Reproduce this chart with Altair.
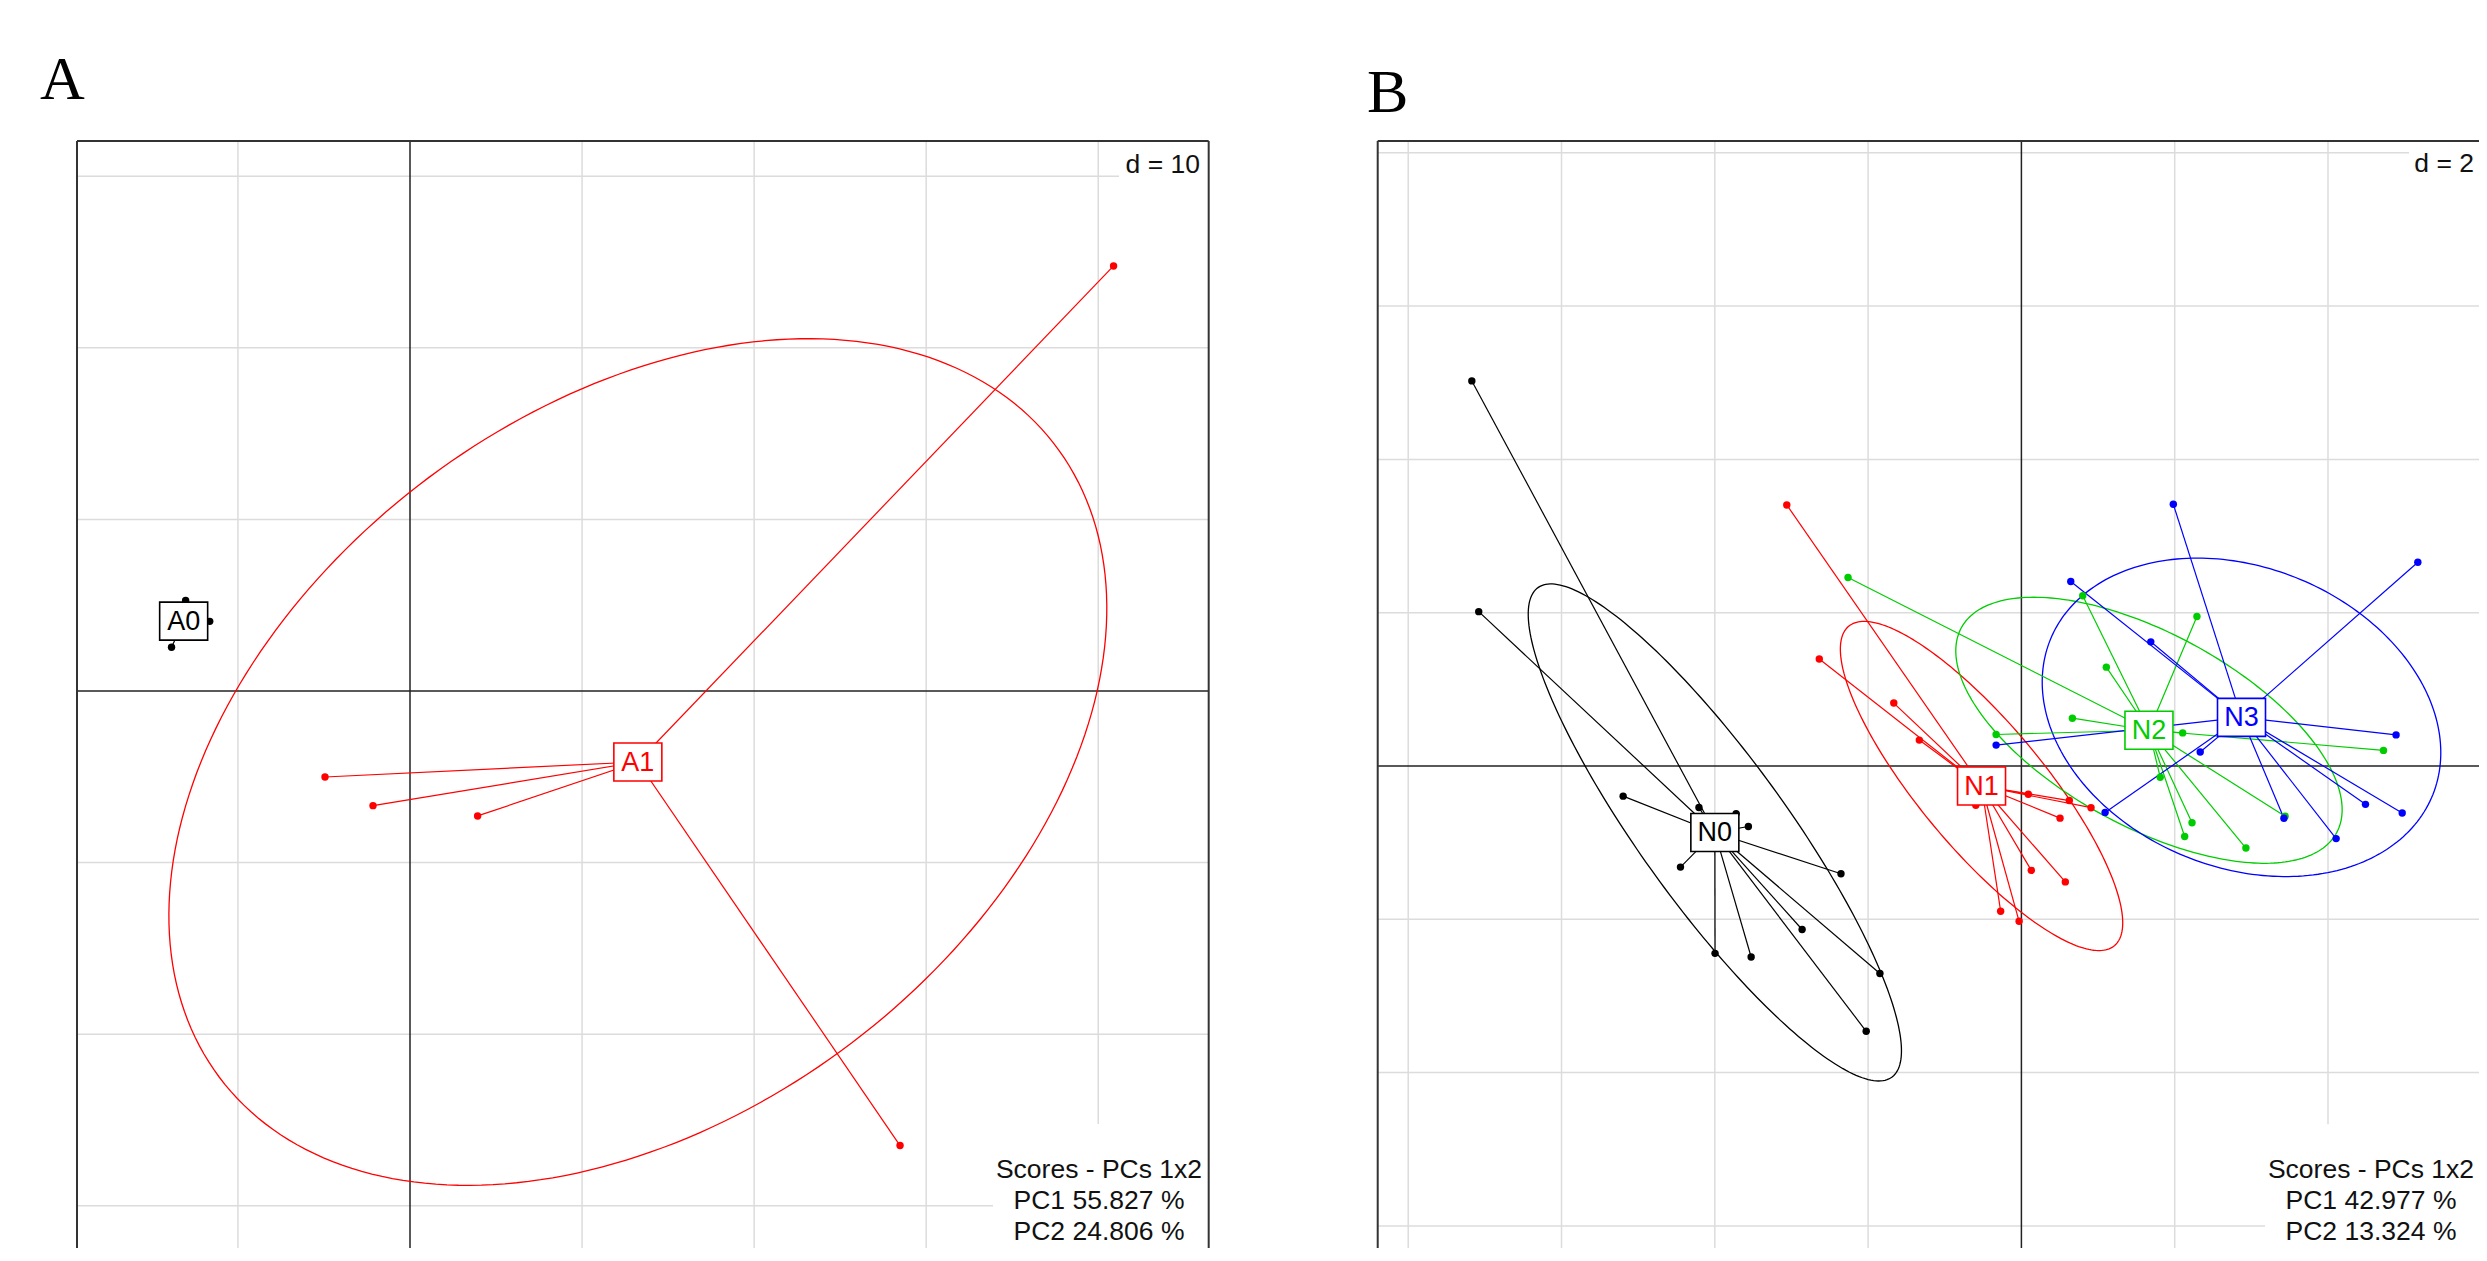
import numpy as np
import pandas as pd
import altair as alt

# ---------------- data: PCA scores ----------------
# Panel A (d = 10)
A_GROUPS = ["A0", "A1"]
A_COLORS = ["#000000", "#FF0000"]
A0_X = [-11.64, -13.86, -13.04, -14.08]
A0_Y = [4.06, 2.55, 5.28, 4.39]
A1_X = [40.89, -4.94, -2.15, 3.93, 28.48]
A1_Y = [24.77, -5.01, -6.68, -7.28, -26.49]
A_ELLIPSE = [False, True]
A_SUB = ["Scores - PCs 1x2", "PC1 55.827 %", "PC2 24.806 %"]
A_D_LABEL = "d = 10"

# Panel B (d = 2)
B_GROUPS = ["N0", "N1", "N2", "N3"]
B_COLORS = ["#000000", "#FF0000", "#00CD00", "#0000FF"]
N0_X = [-7.170, -7.080, -5.196, -4.207, -3.722, -3.562, -4.448, -2.354, -2.861, -3.997, -3.526, -1.846, -2.025]
N0_Y = [5.024, 2.014, -0.393, -0.541, -0.621, -0.789, -1.319, -1.406, -2.133, -2.444, -2.492, -2.707, -3.461]
N1_X = [-3.061, -2.637, -1.665, -1.332, -0.595, 0.090, 0.625, 0.908, 0.504, 0.129, 0.573, -0.271, -0.030]
N1_Y = [3.406, 1.395, 0.821, 0.338, -0.513, -0.368, -0.451, -0.544, -0.680, -1.361, -1.512, -1.894, -2.026]
N2_X = [-2.262, 0.800, 2.290, 1.108, 0.665, -0.330, 2.104, 4.724, 1.811, 3.440, 2.226, 2.130, 2.929]
N2_Y = [2.459, 2.222, 1.950, 1.290, 0.624, 0.411, 0.432, 0.204, -0.147, -0.654, -0.740, -0.920, -1.070]
N3_X = [1.982, 5.172, 0.644, 1.688, -0.330, 4.888, 2.333, 1.092, 3.425, 4.489, 4.968, 4.106, 2.872]
N3_Y = [3.414, 2.659, 2.408, 1.620, 0.273, 0.406, 0.183, -0.605, -0.681, -0.500, -0.612, -0.947, 0.635]
B_ELLIPSE = [True, True, True, True]
B_SUB = ["Scores - PCs 1x2", "PC1 42.977 %", "PC2 13.324 %"]
B_D_LABEL = "d = 2"

# ---------------- layout (in data units of each panel) ----------------
PANEL_A = dict(
    title="A", width=1202, height=1240,
    xdom=[-23.364, 46.495], ydom=[-32.459, 39.802],
    d=10, left=-19.354, right=46.419, top=32.051,
    title_xy=(-21.504, 34.499),
    dlab_xy=(45.914, 30.186), dbox=(41.207, 46.419, 29.953, 32.051),
    sub_x=40.044, sub_y=[-28.380, -30.186, -31.993], subbox=(33.884, 46.419, -25.233),
)
PANEL_B = dict(
    title="B", width=1139, height=1240,
    xdom=[-8.890, 5.970], ydom=[-6.288, 9.889],
    d=2, left=-8.398, right=6.374, top=8.154,
    title_xy=(-8.538, 8.526),
    dlab_xy=(5.905, 7.750), dbox=(5.057, 6.374, 7.684, 8.154),
    sub_x=4.561, sub_y=[-5.375, -5.780, -6.184], subbox=(3.178, 6.374, -4.675),
)

FONT = "Liberation Sans"
SERIF = "Liberation Serif"
BOX_PATH = "M-1.263,-1L1.263,-1L1.263,1L-1.263,1Z"


def ellipse_pts(xs, ys, c=1.5, n=240):
    x = np.asarray(xs, float)
    y = np.asarray(ys, float)
    mx, my = x.mean(), y.mean()
    cov = np.array([[((x - mx) ** 2).mean(), ((x - mx) * (y - my)).mean()],
                    [((x - mx) * (y - my)).mean(), ((y - my) ** 2).mean()]])
    w, v = np.linalg.eigh(cov)
    w = np.clip(w, 0, None)
    t = np.linspace(0, 2 * np.pi, n)
    circ = np.vstack([np.cos(t), np.sin(t)])
    pts = v @ (np.sqrt(w)[:, None] * circ) * c
    return mx + pts[0], my + pts[1]


def build_panel(groups, colors, xs_list, ys_list, ell_flags, sub, dlabel, P):
    XS = alt.Scale(domain=P["xdom"], nice=False, zero=False)
    YS = alt.Scale(domain=P["ydom"], nice=False, zero=False)

    def X(f="x"):
        return alt.X(f"{f}:Q", scale=XS, axis=None)

    def Y(f="y"):
        return alt.Y(f"{f}:Q", scale=YS, axis=None)

    d = P["d"]
    L, R, T = P["left"], P["right"], P["top"]
    BOT = P["ydom"][0]

    grid = []
    for k in range(int(np.ceil(L / d)), int(np.floor(R / d)) + 1):
        v = k * d
        if k != 0 and L < v < R:
            grid.append(dict(x=v, y=BOT, x2=v, y2=T))
    for k in range(int(np.ceil(BOT / d)), int(np.floor(T / d)) + 1):
        v = k * d
        if k != 0 and BOT < v < T:
            grid.append(dict(x=L, y=v, x2=R, y2=v))
    axes = [dict(x=0, y=BOT, x2=0, y2=T), dict(x=L, y=0, x2=R, y2=0)]
    frame = [dict(x=L, y=BOT, x2=L, y2=T), dict(x=R, y=BOT, x2=R, y2=T),
             dict(x=L, y=T, x2=R, y2=T)]

    def rules(rows, color, width):
        return alt.Chart(pd.DataFrame(rows)).mark_rule(
            color=color, strokeWidth=width, clip=True
        ).encode(x=X(), y=Y(), x2="x2:Q", y2="y2:Q")

    db = P["dbox"]
    sb = P["subbox"]
    boxes = pd.DataFrame([
        dict(x=db[0], x2=db[1], y=db[2], y2=db[3]),
        dict(x=sb[0], x2=sb[1], y=BOT, y2=sb[2]),
    ])
    box_layer = alt.Chart(boxes).mark_rect(fill="white", clip=True).encode(
        x=X(), x2="x2:Q", y=Y(), y2="y2:Q")

    dlab = alt.Chart(pd.DataFrame([dict(x=P["dlab_xy"][0], y=P["dlab_xy"][1], t=dlabel)])).mark_text(
        font=FONT, fontSize=26.5, align="right", baseline="alphabetic", color="#111111", clip=True
    ).encode(x=X(), y=Y(), text="t:N")

    subdf = pd.DataFrame([dict(x=P["sub_x"], y=yy, t=tt) for yy, tt in zip(P["sub_y"], sub)])
    sublab = alt.Chart(subdf).mark_text(
        font=FONT, fontSize=26.5, align="center", baseline="alphabetic", color="#111111", clip=True
    ).encode(x=X(), y=Y(), text="t:N")

    ttl = alt.Chart(pd.DataFrame([dict(x=P["title_xy"][0], y=P["title_xy"][1], t=P["title"])])).mark_text(
        font=SERIF, fontSize=62, align="left", baseline="alphabetic", color="#000000", clip=True
    ).encode(x=X(), y=Y(), text="t:N")

    pts, segs, cens, ells = [], [], [], []
    for g, col, xs, ys, e in zip(groups, colors, xs_list, ys_list, ell_flags):
        mx, my = float(np.mean(xs)), float(np.mean(ys))
        cens.append(dict(x=mx, y=my, label=g, color=col))
        for xi, yi in zip(xs, ys):
            pts.append(dict(x=xi, y=yi, color=col))
            segs.append(dict(x=mx, y=my, x2=xi, y2=yi, color=col))
        if e:
            ex, ey = ellipse_pts(xs, ys)
            for i, (a, b) in enumerate(zip(ex, ey)):
                ells.append(dict(x=float(a), y=float(b), i=i, g=g, color=col))

    col_enc = alt.Color("color:N", scale=None)
    ell_layer = alt.Chart(pd.DataFrame(ells)).mark_line(strokeWidth=1.3, clip=True).encode(
        x=X(), y=Y(), order="i:Q", detail="g:N", color=col_enc)
    seg_layer = alt.Chart(pd.DataFrame(segs)).mark_rule(strokeWidth=1.2, clip=True).encode(
        x=X(), y=Y(), x2="x2:Q", y2="y2:Q", color=col_enc)
    pt_layer = alt.Chart(pd.DataFrame(pts)).mark_circle(size=55, opacity=1, clip=True).encode(
        x=X(), y=Y(), color=col_enc)
    cen_df = pd.DataFrame(cens)
    lbox = alt.Chart(cen_df).mark_point(
        shape=BOX_PATH, size=1444, filled=True, opacity=1, strokeWidth=1.6, clip=True
    ).encode(x=X(), y=Y(), fill=alt.value("white"), stroke=alt.Stroke("color:N", scale=None))
    ltxt = alt.Chart(cen_df).mark_text(
        font=FONT, fontSize=27, align="center", baseline="middle", dy=1, clip=True
    ).encode(x=X(), y=Y(), text="label:N", color=col_enc)

    return alt.layer(
        rules(grid, "#dcdcdc", 1.5),
        rules(axes, "#222222", 1.5),
        box_layer, dlab, sublab, ttl,
        rules(frame, "#333333", 2),
        ell_layer, seg_layer, pt_layer, lbox, ltxt,
    ).properties(width=P["width"], height=P["height"])


panel_a = build_panel(A_GROUPS, A_COLORS, [A0_X, A1_X], [A0_Y, A1_Y], A_ELLIPSE,
                      A_SUB, A_D_LABEL, PANEL_A)
panel_b = build_panel(B_GROUPS, B_COLORS, [N0_X, N1_X, N2_X, N3_X], [N0_Y, N1_Y, N2_Y, N3_Y],
                      B_ELLIPSE, B_SUB, B_D_LABEL, PANEL_B)

chart = alt.hconcat(panel_a, panel_b, spacing=130).properties(padding=0).configure_view(strokeWidth=0)

chart.save("out.html", embed_options={"renderer": "svg", "actions": False})
